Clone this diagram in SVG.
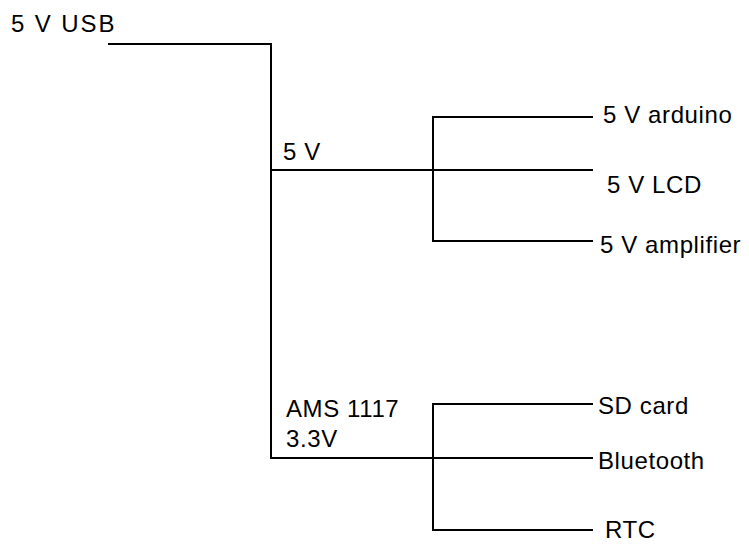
<svg xmlns="http://www.w3.org/2000/svg" width="749" height="544" viewBox="0 0 749 544">
<style>
.t{font-family:"Liberation Sans",Arial,sans-serif;font-size:24px;fill:#000;letter-spacing:0.6px}
.w{stroke:#000;stroke-width:2;fill:none}
</style>
<rect width="749" height="544" fill="#fff"/>
<g id="connectors">
<polyline class="w" points="108,44 271,44 271,458 593,458"/>
<line class="w" x1="271" y1="170" x2="593" y2="170"/>
<polyline class="w" points="593,117 433,117 433,241 593,241"/>
<polyline class="w" points="593,404 433,404 433,530 593,530"/>
</g>
<g id="usb"><text class="t" x="11" y="32" style="letter-spacing:1.9px">5 V USB</text></g>
<g id="v5"><text class="t" x="283" y="160">5 V</text></g>
<g id="ams"><text class="t" x="286" y="417">AMS 1117</text><text class="t" x="286" y="447">3.3V</text></g>
<g id="arduino"><text class="t" x="603" y="123">5 V arduino</text></g>
<g id="lcd"><text class="t" x="607" y="193">5 V LCD</text></g>
<g id="amp"><text class="t" x="600" y="253">5 V amplifier</text></g>
<g id="sd"><text class="t" x="598" y="414">SD card</text></g>
<g id="bt"><text class="t" x="598" y="469">Bluetooth</text></g>
<g id="rtc"><text class="t" x="605" y="538">RTC</text></g>
</svg>
